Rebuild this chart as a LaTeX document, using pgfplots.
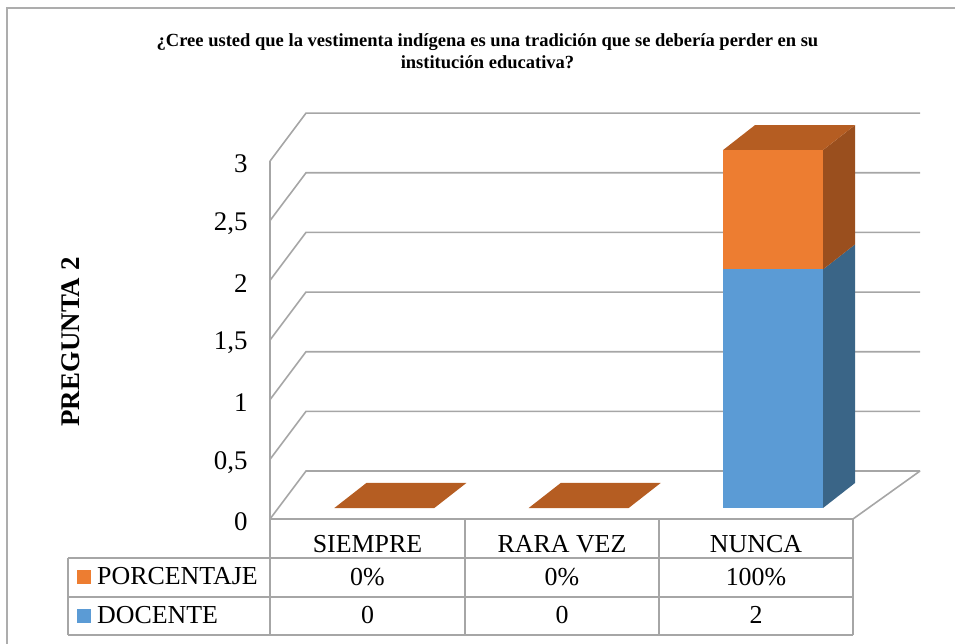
\documentclass[border=0pt]{standalone}
\usepackage{pgfplots}
\pgfplotsset{compat=1.18}
\usepackage{fontspec}
\setmainfont{Liberation Serif}
\definecolor{orF}{HTML}{ED7D31}
\definecolor{orT}{HTML}{B55D22}
\definecolor{orS}{HTML}{9A4F1E}
\definecolor{blF}{HTML}{5B9BD5}
\definecolor{blS}{HTML}{3A6587}
\definecolor{gridc}{HTML}{A6A6A6}
\definecolor{framec}{HTML}{ADADAD}
\pgfplotsset{myax/.style={x=194.33bp, y=119.3bp,
  xmin=-0.5789, xmax=2.766, ymin=-0.0922, ymax=3.310,
  anchor=origin, at={(0,0)}, clip=false,
  axis line style={draw=none}, tick style={draw=none},
  xtick=\empty, ytick=\empty}}
\begin{document}
\begin{tikzpicture}
% pixel scope: (X,Y) in reference pixels
\begin{scope}[x=1bp, y=-1bp, shift={(-382.5bp,508bp)}]
  \useasboundingbox (0,0) rectangle (955,644);
  \draw[framec, line width=1.5bp] (7,660) -- (7,8) -- (970,8);
\end{scope}

% axis 1: walls, grid, ticks, side and top faces
\begin{axis}[myax,
  ytick={-0.0922,0.4078,0.9078,1.4078,1.9078,2.4078,2.9078},
  yticklabels={0,{0,5},1,{1,5},2,{2,5},3},
  yticklabel style={font=\fontsize{27}{31}\selectfont, xshift=-19bp, yshift=-3bp}]
  % gridlines (front-left edge -> back wall)
  \addplot[gridc, line width=1.6bp] coordinates {(-0.5789,-0.0922) (-0.3937,0.310) (2.766,0.310)};
  \addplot[gridc, line width=1.6bp] coordinates {(-0.5789,0.4078) (-0.3937,0.810) (2.766,0.810)};
  \addplot[gridc, line width=1.6bp] coordinates {(-0.5789,0.9078) (-0.3937,1.310) (2.766,1.310)};
  \addplot[gridc, line width=1.6bp] coordinates {(-0.5789,1.4078) (-0.3937,1.810) (2.766,1.810)};
  \addplot[gridc, line width=1.6bp] coordinates {(-0.5789,1.9078) (-0.3937,2.310) (2.766,2.310)};
  \addplot[gridc, line width=1.6bp] coordinates {(-0.5789,2.4078) (-0.3937,2.810) (2.766,2.810)};
  \addplot[gridc, line width=1.6bp] coordinates {(-0.5789,2.9078) (-0.3937,3.310) (2.766,3.310)};
  % front vertical axis and floor
  \addplot[gridc, line width=1.6bp] coordinates {(-0.5789,2.9078) (-0.5789,-0.0922) (2.4211,-0.0922) (2.766,0.310)};
  % zero-value bars (flat tops)
  \addplot[fill=orT, draw=none] coordinates {(-0.2478,0) (0.2668,0) (0.4315,0.2096) (-0.0831,0.2096)};
  \addplot[fill=orT, draw=none] coordinates {(0.7522,0) (1.2668,0) (1.4315,0.2096) (0.9169,0.2096)};
  % NUNCA: side faces and top
  \addplot[fill=blS, draw=none] coordinates {(2.2668,0) (2.4315,0.2096) (2.4315,2.2096) (2.2668,2)};
  \addplot[fill=orS, draw=none] coordinates {(2.2668,2) (2.4315,2.2096) (2.4315,3.2096) (2.2668,3)};
  \addplot[fill=orT, draw=none] coordinates {(1.7522,3) (2.2668,3) (2.4315,3.2096) (1.9169,3.2096)};
\end{axis}

% axis 2: stacked front faces
\begin{axis}[myax, ybar stacked, bar width=100bp]
  \addplot[fill=blF, draw=none] coordinates {(0.0095,0) (1.0095,0) (2.0095,2)};
  \addplot[fill=orF, draw=none] coordinates {(0.0095,0) (1.0095,0) (2.0095,1)};
\end{axis}

\begin{scope}[x=1bp, y=-1bp, shift={(-382.5bp,508bp)}]
  % title
  \node[anchor=base, inner sep=0, font=\fontsize{18.6}{22}\selectfont\bfseries] at (487.5,47)
    {¿Cree usted que la vestimenta indígena es una tradición que se debería perder en su};
  \node[anchor=base, inner sep=0, font=\fontsize{18.6}{22}\selectfont\bfseries] at (487.5,69)
    {institución educativa?};
  % y label
  \node[rotate=90, inner sep=0, font=\fontsize{27}{31}\selectfont\bfseries] at (71,342) {PREGUNTA 2};
  % data table lines
  \draw[gridc, line width=1.5bp] (68,558) -- (853,558);
  \draw[gridc, line width=1.5bp] (68,597) -- (853,597);
  \draw[gridc, line width=1.5bp] (68,635) -- (853,635);
  \draw[gridc, line width=1.5bp] (68,558) -- (68,635);
  \draw[gridc, line width=1.5bp] (270,519) -- (270,635);
  \draw[gridc, line width=1.5bp] (465,519) -- (465,635);
  \draw[gridc, line width=1.5bp] (659,519) -- (659,635);
  \draw[gridc, line width=1.5bp] (853,519) -- (853,635);
  % header
  \begin{scope}[every node/.style={anchor=base, inner sep=0, font=\fontsize{26}{30}\selectfont}]
    \node at (367.5,553) {SIEMPRE};
    \node at (562,553) {RARA VEZ};
    \node at (756,553) {NUNCA};
    \node at (367.5,586) {0\%};
    \node at (562,586) {0\%};
    \node at (756,586) {100\%};
    \node at (367.5,624) {0};
    \node at (562,624) {0};
    \node at (756,624) {2};
    \node[anchor=base west] at (97,585) {PORCENTAJE};
    \node[anchor=base west] at (97,624) {DOCENTE};
  \end{scope}
  \fill[orF] (77,570) rectangle (91,584);
  \fill[blF] (77,609) rectangle (91,623);
\end{scope}
\end{tikzpicture}
\end{document}
